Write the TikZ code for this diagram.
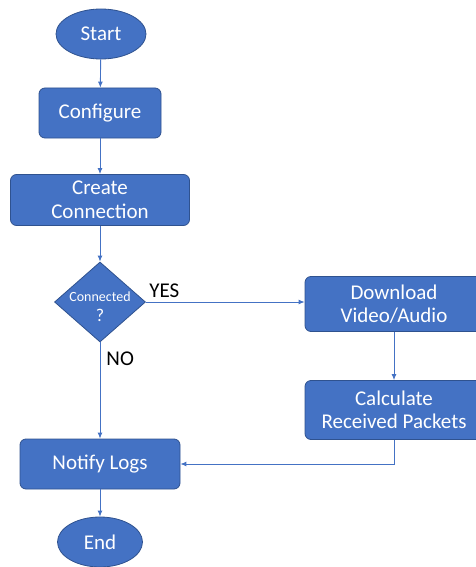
\documentclass[tikz,border=0pt]{standalone}
\usepackage{fontspec}
\setmainfont{Carlito}
\usetikzlibrary{shapes.geometric,arrows.meta}
\definecolor{boxblue}{HTML}{4472C4}
\definecolor{edgeblue}{HTML}{2F528F}

\begin{document}
\begin{tikzpicture}[x=1pt,y=-1pt,
  every node/.style={font=\fontsize{21}{23.5}\selectfont, text=white, align=center, inner sep=0pt},
  term/.style={ellipse, fill=boxblue, draw=edgeblue, line width=0.8pt},
  proc/.style={rectangle, rounded corners=6pt, fill=boxblue, draw=edgeblue, line width=0.8pt},
  flow/.style={draw=boxblue, line width=0.9pt, -{Latex[length=6pt,width=5pt]}},
  lbl/.style={text=black}]
\useasboundingbox (0,0) rectangle (475,567);

\node[term, minimum width=90, minimum height=50] (start) at (101,34) {Start};
\node[proc, minimum width=122, minimum height=50] (cfg) at (100,113) {Configure};
\node[proc, minimum width=179, minimum height=51] (conn) at (100,200) {Create\\Connection};
\node[diamond, fill=boxblue, draw=edgeblue, line width=0.8pt, minimum width=91, minimum height=80,
  label={[font=\fontsize{14}{20}\selectfont, text=white, align=center, yshift=-5pt]center:Connected\\{\fontsize{18}{20}\selectfont ?}}] (dec) at (100,302) {};
\node[proc, minimum width=178, minimum height=55] (dl) at (394,304) {Download\\Video/Audio};
\node[proc, minimum width=178, minimum height=59] (calc) at (394,410) {Calculate\\Received Packets};
\node[proc, minimum width=160, minimum height=50] (notify) at (100,464) {Notify Logs};
\node[term, minimum width=85, minimum height=50] (end) at (100,542) {End};

\draw[flow] (start) -- (cfg);
\draw[flow] (cfg) -- (conn);
\draw[flow] (conn) -- (dec);
\draw[flow] (dec.east) -- (dec.east -| dl.west) node[lbl, pos=0.0, anchor=south west, xshift=3pt, yshift=4pt] {YES};
\draw[flow] (dec.south) -- (notify.north) node[lbl, pos=0.0, anchor=north west, xshift=6pt, yshift=-9pt] {NO};
\draw[flow] (dl) -- (calc);
\draw[flow] (calc.south) |- (notify.east);
\draw[flow] (notify) -- (end);
\end{tikzpicture}
\end{document}
